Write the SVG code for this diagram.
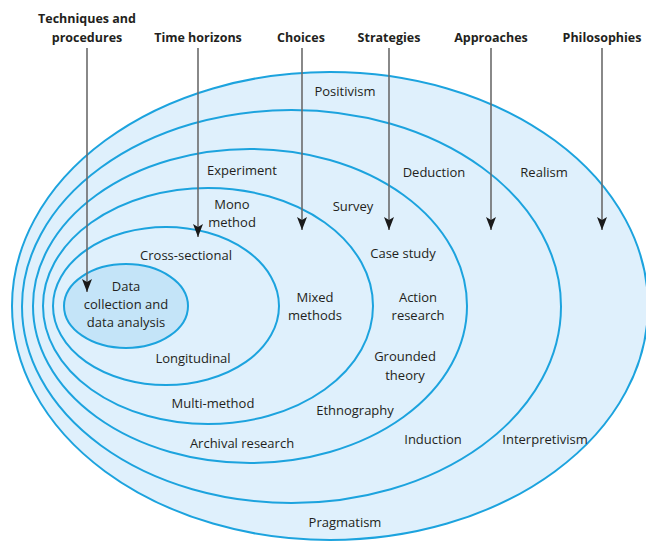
<svg xmlns="http://www.w3.org/2000/svg" width="646" height="541" viewBox="0 0 646 541">
<style>
.ring{fill:#dff0fc;stroke:#1ca3de;stroke-width:2}
.core{fill:#c4e4f8;stroke:#1ca3de;stroke-width:2}
.lbl{font-family:"Open Sans","Liberation Sans",sans-serif;font-size:13px;fill:#231f20;text-anchor:middle}
.hdr{font-family:"Open Sans","Liberation Sans",sans-serif;font-size:12.5px;font-weight:bold;fill:#231f20;text-anchor:middle}
.arr{stroke:#6b6b6b;stroke-width:1.6;fill:none;marker-end:url(#ah)}
</style>
<defs>
<marker id="ah" markerWidth="14" markerHeight="10" refX="13" refY="5" orient="auto" markerUnits="userSpaceOnUse" viewBox="0 0 14 10">
<path d="M0,0 L3,5 L0,10 L13,5 Z" fill="#1a1a1a"/>
</marker>
</defs>
<rect width="646" height="541" fill="#ffffff"/>
<g id="philosophies">
<ellipse class="ring" cx="330" cy="306" rx="318" ry="234"/>
<text class="lbl" x="345" y="96">Positivism</text>
<text class="lbl" x="544" y="177">Realism</text>
<text class="lbl" x="545" y="444">Interpretivism</text>
<text class="lbl" x="345" y="527">Pragmatism</text>
</g>
<g id="approaches">
<ellipse class="ring" cx="291.5" cy="306.5" rx="269.5" ry="196.5"/>
<text class="lbl" x="434" y="177">Deduction</text>
<text class="lbl" x="433" y="444">Induction</text>
</g>
<g id="strategies">
<ellipse class="ring" cx="250" cy="306" rx="217" ry="157"/>
<text class="lbl" x="242" y="175">Experiment</text>
<text class="lbl" x="353" y="211">Survey</text>
<text class="lbl" x="403" y="258">Case study</text>
<text class="lbl" x="418" y="302">Action</text>
<text class="lbl" x="418" y="320">research</text>
<text class="lbl" x="405" y="361">Grounded</text>
<text class="lbl" x="405" y="380">theory</text>
<text class="lbl" x="355" y="415">Ethnography</text>
<text class="lbl" x="242" y="448">Archival research</text>
</g>
<g id="choices">
<ellipse class="ring" cx="208" cy="306" rx="165" ry="118"/>
<text class="lbl" x="232" y="209">Mono</text>
<text class="lbl" x="232" y="227">method</text>
<text class="lbl" x="315" y="302">Mixed</text>
<text class="lbl" x="315" y="320">methods</text>
<text class="lbl" x="213" y="408">Multi-method</text>
</g>
<g id="time-horizons">
<ellipse class="ring" cx="166" cy="306" rx="113" ry="79"/>
<text class="lbl" x="186" y="260">Cross-sectional</text>
<text class="lbl" x="193" y="363">Longitudinal</text>
</g>
<g id="techniques">
<ellipse class="core" cx="126" cy="306" rx="62" ry="42"/>
<text class="lbl" x="126" y="291">Data</text>
<text class="lbl" x="126" y="309">collection and</text>
<text class="lbl" x="126" y="327">data analysis</text>
</g>
<g id="headers">
<text class="hdr" x="87" y="23">Techniques and</text>
<text class="hdr" x="87" y="42">procedures</text>
<text class="hdr" x="198" y="42">Time horizons</text>
<text class="hdr" x="301" y="42">Choices</text>
<text class="hdr" x="389" y="42">Strategies</text>
<text class="hdr" x="491" y="42">Approaches</text>
<text class="hdr" x="602" y="42">Philosophies</text>
</g>
<g id="connectors">
<line class="arr" x1="87" y1="48" x2="87" y2="292"/>
<line class="arr" x1="198" y1="48" x2="198" y2="237"/>
<line class="arr" x1="302" y1="48" x2="302" y2="230"/>
<line class="arr" x1="389" y1="48" x2="389" y2="230"/>
<line class="arr" x1="491" y1="48" x2="491" y2="230"/>
<line class="arr" x1="602" y1="48" x2="602" y2="230"/>
</g>
</svg>
